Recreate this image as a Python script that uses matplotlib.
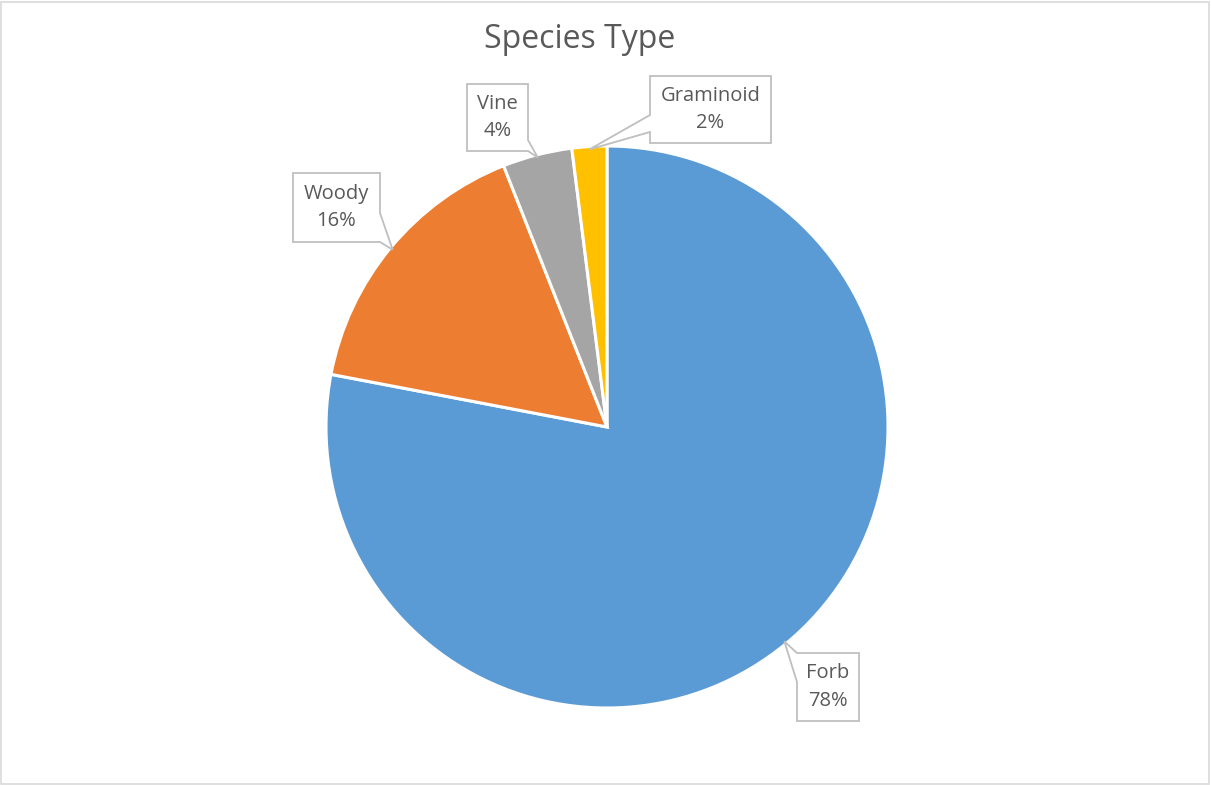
import matplotlib.pyplot as plt
import numpy as np
from matplotlib.patches import Polygon, Rectangle

plt.rcParams['font.family'] = ['Open Sans', 'DejaVu Sans']

species = ['Forb', 'Woody', 'Vine', 'Graminoid']
shares = [78, 16, 4, 2]
colors = ['#5B9BD5', '#ED7D31', '#A5A5A5', '#FFC000']

W, H = 1211, 785
TEXT = '#595959'
EDGE = '#BFBFBF'

# label boxes in pixel coords (left, top, right, bottom), y measured from the top
boxes = {
    'Forb': (797, 653, 859, 721),
    'Woody': (293, 173, 380, 242),
    'Vine': (467, 84, 528, 151),
    'Graminoid': (650, 76, 771, 143),
}


def fy(y):
    return H - y


def callout(name, box, tip):
    l, t, r, b = box
    if name == 'Woody':
        pts = [(l, t), (r, t), (r, 213), tip, (r, b), (l, b)]
    elif name == 'Vine':
        pts = [(l, t), (r, t), (r, 140), tip, (r, b), (l, b)]
    elif name == 'Graminoid':
        pts = [(l, t), (r, t), (r, b), (l, b), (l, 132), tip, (l, 115)]
    else:
        pts = [(l, t), (r, t), (r, b), (l, b), (l, 682), tip]
    return [(x, fy(y)) for x, y in pts]


fig = plt.figure(figsize=(W / 100, H / 100), dpi=100)
ax = fig.add_axes([0, 0, 1, 1])

cx, cy, rad = 607, fy(427), 281
wedges, _ = ax.pie(shares, colors=colors, startangle=90, counterclock=False,
                   center=(cx, cy), radius=rad,
                   wedgeprops=dict(edgecolor='white', linewidth=2.2))

for name, share, w in zip(species, shares, wedges):
    mid = np.deg2rad((w.theta1 + w.theta2) / 2)
    tip = (cx + rad * 0.99 * np.cos(mid), fy(cy + rad * 0.99 * np.sin(mid)))
    box = boxes[name]
    ax.add_patch(Polygon(callout(name, box, tip), closed=True, facecolor='white',
                         edgecolor=EDGE, linewidth=1.3, zorder=3))
    ax.text((box[0] + box[2]) / 2, fy((box[1] + box[3]) / 2), f'{name}\n{share}%',
            ha='center', va='center', fontsize=14.5, color=TEXT,
            linespacing=1.5, zorder=4)

ax.text(580, fy(40), 'Species Type', ha='center', va='center',
        fontsize=23, color=TEXT)

# thin chart-area frame
ax.add_patch(Rectangle((0.5, 1.5), W - 2.5, H - 3, facecolor='none',
                       edgecolor='#D9D9D9', linewidth=1.2))

ax.set_xlim(0, W)
ax.set_ylim(0, H)
ax.set_aspect('equal')
ax.axis('off')

fig.savefig('out.png', dpi=100, facecolor='white')
